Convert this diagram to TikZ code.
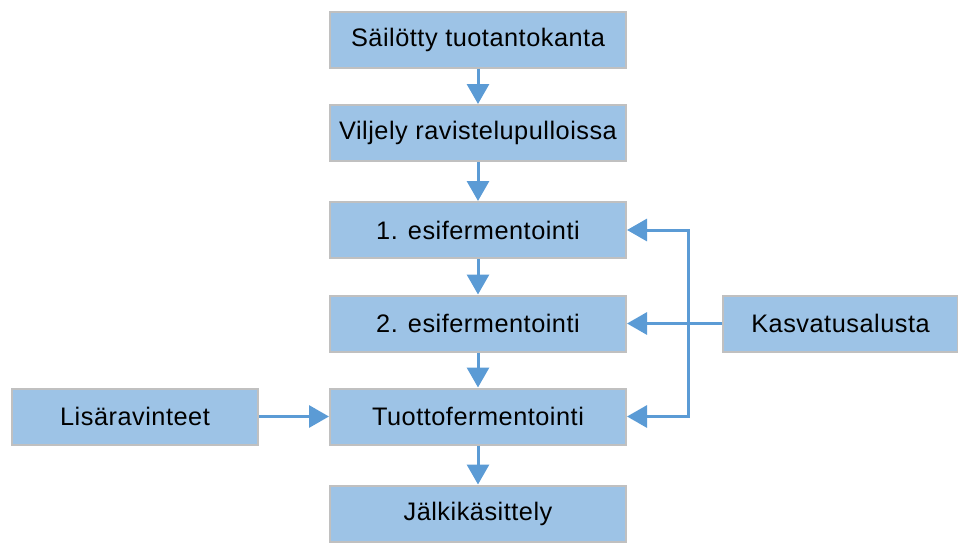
\documentclass[tikz,border=0pt]{standalone}
\usepackage{fontspec}
\setmainfont[LetterSpace=2]{Liberation Sans}
\usetikzlibrary{arrows.meta}
\definecolor{boxfill}{HTML}{9DC3E6}
\definecolor{boxline}{HTML}{C0C0C0}
\definecolor{arrowblue}{HTML}{5B9BD5}
\begin{document}
\begin{tikzpicture}[x=0.75pt,y=-0.75pt,
  procbox/.style={draw=boxline, line width=1.5pt, fill=boxfill, rectangle,
    minimum height=42pt, inner sep=0pt, font=\fontsize{19pt}{22pt}\selectfont, text=black},
  mainbox/.style={procbox, minimum width=222pt},
  arr/.style={draw=arrowblue, line width=2.25pt, -{Triangle[length=15pt,width=16.5pt]}},
  plain/.style={draw=arrowblue, line width=2.25pt}]
\useasboundingbox (0,0) rectangle (958,543);
\node[mainbox] (b1) at (478,39.5) {Säilötty tuotantokanta};
\node[mainbox] (b2) at (478,133) {Viljely ravistelupulloissa};
\node[mainbox] (b3) at (478,230) {1. esifermentointi};
\node[mainbox] (b4) at (478,323.5) {2. esifermentointi};
\node[mainbox] (b5) at (478,416.5) {Tuottofermentointi};
\node[mainbox] (b6) at (478,513.5) {Jälkikäsittely};
\node[procbox, minimum width=184.5pt] (lis) at (135,416.5) {Lisäravinteet};
\node[procbox, minimum width=176pt] (kas) at (840.5,323.5) {Kasvatusalusta};
\coordinate (j) at (688,323.5);
\draw[arr] (b1) -- (b2);
\draw[arr] (b2) -- (b3);
\draw[arr] (b3) -- (b4);
\draw[arr] (b4) -- (b5);
\draw[arr] (b5) -- (b6);
\draw[arr] (lis) -- (b5);
\draw[arr] (kas) -- (b4);
\draw[arr] (j) |- (b3.east);
\draw[arr] (j) |- (b5.east);
\end{tikzpicture}
\end{document}
